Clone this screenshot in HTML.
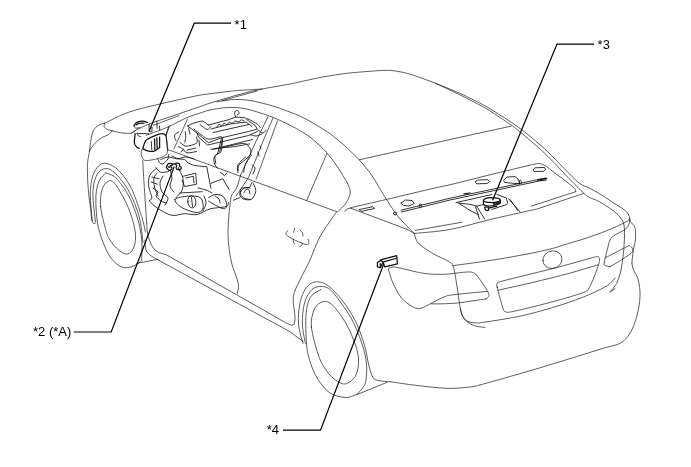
<!DOCTYPE html>
<html><head><meta charset="utf-8"><title>Component location</title>
<style>
html,body{margin:0;padding:0;background:#fff;}
body{width:691px;height:467px;overflow:hidden;}
svg{display:block;will-change:transform;}
.b{fill:none;stroke:#111;stroke-width:.68;stroke-linecap:round;stroke-linejoin:round;}
.e{fill:none;stroke:#111;stroke-width:.85;stroke-linecap:round;stroke-linejoin:round;}
.d{fill:none;stroke:#111;stroke-width:1.25;stroke-linecap:round;stroke-linejoin:round;}
.k{fill:none;stroke:#000;stroke-width:1.2;stroke-linejoin:miter;}
.h{fill:none;stroke:#000;stroke-width:1.2;stroke-linecap:round;stroke-linejoin:round;}
text{font-family:"Liberation Sans",sans-serif;font-size:13px;fill:#000;}
</style></head><body>
<svg width="691" height="467" viewBox="0 0 691 467">
<rect width="691" height="467" fill="#fff"/>
<g class="b">
<path d="M104.6,123.3 C108.7,121.4 119.6,115.3 129.3,112.0 C139.0,108.7 151.7,106.0 163.0,103.3 C174.3,100.6 189.2,97.3 197.0,95.7 C204.8,94.1 204.0,94.6 210.0,93.8 C216.0,93.0 225.0,91.7 233.1,90.9 C241.2,90.1 251.8,89.9 258.6,89.2 C265.4,88.5 268.5,87.8 273.7,86.9 C278.9,86.0 285.9,84.8 290.0,84.0 C294.1,83.2 293.0,83.4 298.5,82.2 C304.0,81.0 315.0,78.4 323.2,76.9 C331.4,75.4 340.0,74.1 347.8,73.2 C355.6,72.3 363.4,71.8 370.0,71.3 C376.6,70.8 382.5,70.2 387.5,70.3 C392.5,70.4 395.6,71.0 400.0,71.8 C404.4,72.6 407.8,73.4 413.7,75.3 C419.6,77.2 428.2,80.5 435.5,83.3 C442.8,86.1 451.6,89.7 457.3,92.2 C463.1,94.7 464.7,95.5 470.0,98.2 C475.3,100.9 481.1,103.4 489.1,108.2 C497.1,113.0 509.7,121.0 518.2,127.1 C526.7,133.2 534.0,139.5 540.1,144.8 C546.2,150.1 549.8,153.9 554.6,158.7 C559.4,163.5 564.9,169.3 569.1,173.5 C573.3,177.7 576.4,181.1 580.0,183.7 C583.6,186.2 586.6,186.5 590.9,188.8 C595.1,191.1 601.7,195.1 605.5,197.5 C609.3,199.9 610.6,201.0 613.7,203.0 C616.8,205.0 621.5,207.8 623.9,209.6 C626.3,211.4 627.2,212.4 628.2,213.9 C629.2,215.4 629.3,217.0 629.7,218.3 C630.1,219.6 629.7,220.7 630.4,221.9 C631.1,223.1 633.1,224.0 634.0,225.6 C634.9,227.2 635.3,228.7 635.5,231.4 C635.7,234.1 635.6,238.4 635.2,241.6 C634.8,244.8 633.8,246.7 633.3,250.3 C632.8,253.9 632.1,260.9 631.9,263.0"/>
<path d="M104.6,123.3 C103.8,123.5 101.2,123.8 99.5,124.8 C97.8,125.8 95.6,127.2 94.3,129.0 C93.0,130.8 92.5,132.9 91.8,135.6 C91.1,138.2 90.6,142.0 90.2,144.9 C89.8,147.8 89.6,150.6 89.2,153.1 C88.8,155.6 88.2,157.5 87.9,160.0 C87.6,162.5 87.4,164.6 87.4,168.0 C87.4,171.4 87.5,176.2 87.7,180.7 C87.9,185.2 88.4,190.7 88.8,195.0 C89.2,199.3 89.7,201.9 90.3,206.4 C90.9,210.9 91.4,219.0 92.3,221.8 C93.2,224.6 94.9,222.9 95.4,223.1"/>
<path d="M104.6,123.3 C104.5,123.8 103.8,125.5 104.1,126.4 C104.4,127.4 105.2,128.2 106.7,129.0 C108.2,129.8 110.1,130.3 112.8,131.0 C115.5,131.7 120.0,132.8 123.1,133.1 C126.2,133.4 129.2,133.5 131.3,133.1 C133.4,132.7 134.7,130.9 135.4,130.5"/>
<path d="M112.3,130.5 C111.7,131.2 110.3,133.5 108.7,134.6 C107.1,135.7 104.6,136.0 102.6,137.2 C100.5,138.4 98.3,140.0 96.4,141.8 C94.5,143.6 92.4,146.4 91.2,148.0 C90.0,149.6 89.7,151.0 89.4,151.6"/>
<path d="M92.3,220.6 C92.0,216.1 90.2,201.1 90.3,193.6 C90.4,186.1 91.4,180.3 92.9,175.6 C94.4,170.9 97.0,167.3 99.3,165.3 C101.6,163.3 103.8,162.7 107.0,163.5 C110.2,164.3 114.5,166.2 118.6,170.4 C122.7,174.6 127.6,180.7 131.4,188.4 C135.2,196.1 139.3,209.4 141.7,216.7 C144.0,224.0 144.9,229.5 145.5,232.1"/>
<path d="M95.4,221.8 C95.0,217.1 92.8,201.1 92.9,193.6 C93.0,186.1 94.2,181.0 95.9,176.9 C97.6,172.8 100.2,170.0 103.1,169.1 C106.0,168.2 109.1,168.0 113.4,171.7 C117.7,175.3 124.5,183.5 128.8,191.0 C133.1,198.5 136.7,208.1 139.1,216.7 C141.5,225.3 142.3,238.1 143.0,242.4"/>
<path d="M105.7,173.0 C104.6,174.3 100.9,176.8 99.3,180.7 C97.7,184.5 96.2,189.0 95.9,196.1 C95.6,203.2 96.3,215.4 97.5,223.1 C98.7,230.8 100.9,236.6 103.1,242.4 C105.3,248.2 107.8,253.7 110.8,257.8 C113.8,261.9 117.7,265.3 121.1,266.8 C124.5,268.3 128.2,267.7 131.4,266.8 C134.6,265.9 138.7,263.2 140.4,261.7 C142.1,260.2 141.5,261.4 141.7,257.8 C141.9,254.2 142.3,246.2 141.7,239.8 C141.0,233.4 140.0,226.6 137.8,219.3 C135.7,212.0 132.4,203.0 128.8,196.1 C125.2,189.2 119.8,181.9 116.0,178.1 C112.2,174.2 107.4,173.8 105.7,173.0"/>
<path d="M100.6,206.4 C100.0,199.8 100.9,194.1 102.0,190.0 C103.1,185.9 105.1,183.3 107.0,182.0 C108.9,180.7 110.9,179.8 113.4,182.0 C115.9,184.2 119.2,190.0 122.0,195.0 C124.8,200.0 127.8,205.8 130.0,212.0 C132.2,218.2 134.6,226.3 135.3,232.1 C136.0,237.9 135.3,243.3 134.0,247.0 C132.7,250.7 130.2,253.5 127.6,254.0 C125.0,254.5 121.5,252.4 118.6,250.1 C115.7,247.8 112.2,243.4 110.0,240.0 C107.8,236.6 107.3,235.2 105.7,229.6 C104.1,224.0 101.2,213.0 100.6,206.4Z"/>
<path d="M136.7,263.3 L158.3,259.3"/>
<path d="M142.8,160.5 C142.9,162.9 143.2,170.1 143.5,175.0 C143.8,179.9 144.0,182.4 144.5,190.0 C145.0,197.6 145.9,212.7 146.5,220.5 C147.1,228.3 146.9,231.8 148.3,236.7 C149.7,241.6 151.9,246.9 155.0,250.0 C158.1,253.1 164.8,254.2 166.7,255.0 L286.7,323.3  C287.8,323.6 291.9,326.1 293.3,325.0 C294.7,323.9 295.0,321.4 295.0,316.7 C295.0,312.0 292.5,302.8 293.3,296.7 C294.1,290.6 297.2,286.1 300.0,280.0 C302.8,273.9 306.7,267.2 310.0,260.0 C313.3,252.8 315.6,244.8 320.0,236.7 C324.4,228.6 333.9,215.9 336.7,211.7"/>
<path d="M145.0,240.0 C145.3,241.9 145.0,248.6 146.7,251.7 C148.4,254.8 153.6,257.2 155.0,258.3 L290,331.7 L303.3,341.7"/>
<path d="M167.4,149.4 L336.7,211.7"/>
<path d="M240.6,175.2 C239.9,177.3 238.2,184.4 236.7,187.8 C235.2,191.2 232.6,192.6 231.5,195.6 C230.4,198.6 230.4,202.1 229.9,206.0 C229.4,209.9 228.9,213.3 228.6,219.0 C228.3,224.7 227.7,232.6 228.2,240.0 C228.7,247.4 230.0,256.1 231.7,263.3 C233.4,270.5 237.4,278.3 238.3,283.3 C239.2,288.3 237.5,291.6 237.3,293.3"/>
<path d="M326.8,153.7 L306.7,200.5"/>
<path d="M359.3,159.8 L403.1,150.0 L460.0,137.3 L510.9,126.2"/>
<path d="M435.5,83.3 C439.1,85.0 451.6,90.8 457.3,93.6 C463.1,96.4 464.7,97.2 470.0,100.0 C475.3,102.8 482.3,106.1 489.1,110.3 C495.9,114.5 506.0,121.5 510.9,124.9 C515.8,128.3 513.3,126.5 518.2,130.5 C523.1,134.5 534.0,143.5 540.1,149.0 C546.2,154.5 549.8,158.4 554.6,163.3 C559.4,168.2 565.2,174.6 569.1,178.6 C573.0,182.6 575.4,184.9 577.8,187.3 C580.2,189.7 581.8,191.4 583.7,193.1 C585.7,194.8 586.9,196.1 589.5,197.5 C592.1,198.9 595.1,199.3 599.1,201.6 C603.1,203.8 610.1,208.2 613.7,211.0 C617.3,213.8 619.2,216.2 620.9,218.3 C622.5,220.4 623.0,221.0 623.6,223.4 C624.2,225.8 624.5,229.3 624.6,232.8 C624.7,236.3 624.4,240.6 624.1,244.5 C623.9,248.4 623.6,251.9 623.1,256.1 C622.6,260.4 622.1,265.5 621.0,270.0 C619.9,274.5 618.5,279.7 616.7,283.3 C614.9,286.9 611.1,290.3 610.0,291.7"/>
<path d="M345.0,211.5 L346.5,209.3 L352.2,207.4 L390.9,198.4 L431.6,188.7 L450.0,184.8 L490.7,174.6 L531.4,164.8  C532.8,164.6 537.1,163.4 539.5,163.6 C541.9,163.8 543.3,164.7 545.8,166.2 C548.3,167.7 550.7,169.9 554.6,172.8 C558.5,175.7 565.7,181.0 569.1,183.7 C572.5,186.4 573.8,187.5 574.9,188.8 C576.0,190.1 575.6,191.2 575.7,191.7"/>
<path d="M583.7,193.4 C581.8,194.1 579.4,194.9 572.1,197.3 C564.8,199.7 546.8,205.8 540.0,208.0 C533.2,210.2 539.6,208.3 531.4,210.2 C523.2,212.1 504.3,216.2 490.7,219.4 C477.1,222.6 462.7,227.2 450.0,229.5 C437.3,231.8 420.2,232.8 414.3,233.4"/>
<path d="M575.7,191.7 L540.0,203.3 L531.4,206.1"/>
<path d="M415.3,230.4 L462.1,222.2"/>
<path d="M350.2,208.0 L407.2,229.4 L414.3,233.4"/>
<path d="M414.3,233.4 C414.6,234.5 415.3,238.0 416.4,240.0 C417.5,242.0 417.8,243.1 420.7,245.4 C423.6,247.7 429.0,251.2 433.6,253.9 C438.2,256.6 445.4,259.4 448.6,261.4 C451.8,263.4 451.8,263.5 452.9,265.7 C454.0,267.9 454.3,270.7 455.0,274.3 C455.7,277.9 456.4,282.5 457.1,287.1 C457.8,291.7 458.6,297.8 459.3,302.1 C460.0,306.4 460.3,309.8 461.4,312.9 C462.5,315.9 463.5,318.3 465.7,320.4 C467.9,322.5 471.1,324.5 474.3,325.7 C477.5,326.9 483.2,327.1 485.0,327.4"/>
<path d="M452.9,265.7 C460.8,264.6 484.6,261.5 500.0,258.9 C515.4,256.3 533.3,253.0 545.0,250.3 C556.7,247.7 563.4,244.9 570.0,243.0 C576.6,241.1 579.8,240.3 584.6,238.7 C589.5,237.1 594.2,235.4 599.1,233.6 C604.0,231.8 609.7,229.5 613.7,227.8 C617.7,226.1 620.7,224.6 623.1,223.4 C625.5,222.2 627.1,221.3 628.2,220.5 C629.3,219.7 629.5,218.7 629.7,218.3"/>
<path d="M543,260.5 a9.5,8 -12 1,0 18.8,-1.6 a9.5,8 -12 1,0 -18.8,1.6Z"/>
<path d="M497.2,287.3 C496.2,283.2 496.7,284.5 497.2,283.6 C497.7,282.7 495.9,283.0 500.1,281.7 C504.3,280.4 512.6,278.5 522.6,276.0 C532.6,273.5 549.0,269.6 560.3,266.6 C571.6,263.6 584.3,259.9 590.4,258.2 C596.5,256.5 595.4,256.7 596.9,256.7 C598.4,256.7 599.1,257.0 599.4,258.2 C599.7,259.4 599.7,260.7 598.8,263.8 C597.9,266.9 595.7,273.1 594.1,277.0 C592.5,280.9 591.0,284.8 589.4,287.3 C587.8,289.8 589.6,289.9 584.7,292.0 C579.9,294.1 569.1,297.1 560.3,299.6 C551.5,302.1 540.2,305.1 532.0,307.1 C523.8,309.1 515.7,311.0 511.3,311.8 C506.9,312.6 507.1,312.4 505.7,311.8 C504.3,311.2 504.3,312.1 502.9,308.0 C501.5,303.9 498.1,291.4 497.2,287.3Z"/>
<path d="M498.2,290.2 C503.8,288.9 520.1,285.4 532.0,282.6 C543.9,279.8 558.7,276.2 569.7,273.2 C580.7,270.2 593.2,266.2 597.9,264.8"/>
<path d="M460.4,308.6 C460.8,309.8 461.2,313.9 462.5,316.0 C463.8,318.1 465.6,320.2 467.9,321.4 C470.2,322.5 473.5,322.8 476.4,322.9 C479.2,323.0 477.3,323.3 485.0,322.1 C492.7,320.9 510.1,318.4 522.6,315.6 C535.1,312.8 549.3,308.6 560.3,305.2 C571.3,301.8 580.7,298.2 588.5,294.9 C596.3,291.6 602.9,288.3 607.3,285.5 C611.7,282.7 613.7,279.2 615.0,277.9"/>
<path d="M610.1,292.0 L615.0,288.6"/>
<path d="M388.6,270.0 C388.8,269.6 388.2,268.3 389.6,267.9 C391.0,267.5 391.6,266.5 397.1,267.4 C402.7,268.3 415.0,272.0 422.9,273.2 C430.8,274.4 437.2,274.5 444.3,274.3 C451.4,274.1 460.7,272.3 465.7,272.1 C470.7,271.9 471.8,271.8 474.3,273.2 C476.8,274.6 478.6,277.8 480.7,280.7 C482.8,283.6 485.7,287.9 487.1,290.4 C488.5,292.9 489.1,294.3 488.9,295.7 C488.7,297.1 486.6,298.4 486.1,298.9"/>
<path d="M388.6,270.0 C389.3,272.1 390.8,278.2 392.9,282.9 C395.0,287.5 398.2,294.0 401.4,297.9 C404.6,301.8 409.1,304.6 412.1,306.4 C415.1,308.2 416.7,309.0 419.6,308.6 C422.5,308.2 425.2,306.3 429.3,304.3 C433.4,302.3 440.0,298.4 444.3,296.8 C448.6,295.2 447.9,295.5 455.0,294.6 C462.1,293.7 481.8,291.9 487.1,291.4"/>
<path d="M431.4,303.9 C435.3,303.8 445.9,304.0 455.0,303.2 C464.1,302.4 480.9,299.6 486.1,298.9"/>
<path d="M629.7,219.0 C629.6,219.8 629.7,222.4 629.0,224.1 C628.3,225.8 627.8,227.2 625.3,229.2 C622.8,231.1 616.2,234.0 613.7,235.8 C611.2,237.6 611.1,237.7 610.0,240.1 C608.9,242.5 608.1,246.5 607.1,250.3 C606.1,254.1 604.6,260.5 604.2,263.0 C603.9,265.5 604.0,264.9 605.0,265.5 C606.0,266.1 609.2,266.5 610.0,266.7"/>
<path d="M605.7,257.6 C609.2,255.8 622.8,248.6 626.8,246.7 C630.8,244.8 628.7,245.5 629.7,245.9 C630.7,246.3 632.4,247.7 632.6,248.9 C632.8,250.1 633.5,251.0 631.1,253.2 C628.7,255.4 621.5,259.8 618.0,262.0 C614.5,264.2 611.3,265.9 610.0,266.7"/>
<path d="M631.9,263.0 C632.2,264.2 632.4,267.2 633.5,270.0 C634.6,272.8 637.2,275.6 638.3,280.0 C639.4,284.4 640.3,290.6 640.0,296.7 C639.7,302.8 638.4,310.6 636.7,316.7 C635.0,322.8 632.8,328.9 630.0,333.3 C627.2,337.7 624.5,340.8 620.0,343.3 C615.5,345.8 613.3,345.2 603.3,348.3 C593.3,351.4 572.8,357.8 560.0,361.7 C547.2,365.6 537.4,368.6 526.7,371.7 C516.0,374.8 503.8,378.3 496.0,380.5 C488.2,382.7 482.7,384.2 480.0,385.0"/>
<path d="M390.0,381.7 C393.9,382.2 403.9,383.9 413.3,385.0 C422.8,386.1 437.2,388.0 446.7,388.3 C456.1,388.6 464.4,387.6 470.0,387.0 C475.6,386.4 478.3,385.3 480.0,385.0"/>
<path d="M303.0,343.4 C302.2,340.2 299.0,330.7 298.5,324.0 C298.0,317.3 298.8,309.0 300.0,303.0 C301.2,297.0 303.5,291.5 306.0,288.0 C308.5,284.5 311.5,282.5 315.0,282.0 C318.5,281.5 322.5,282.0 327.0,285.0 C331.5,288.0 337.3,294.0 342.0,300.0 C346.7,306.0 351.7,313.5 355.4,321.0 C359.1,328.5 362.1,337.5 364.4,345.0 C366.7,352.5 367.5,360.5 369.0,366.0 C370.5,371.5 371.4,375.5 373.4,378.0 C375.4,380.5 378.2,380.4 381.0,381.0 C383.8,381.6 388.5,381.6 390.0,381.7"/>
<path d="M305.4,343.4 C304.9,340.2 302.5,330.7 302.4,324.0 C302.2,317.3 302.9,308.8 304.5,303.0 C306.1,297.2 309.0,292.2 312.0,289.5 C315.0,286.8 319.0,286.0 322.5,286.5 C326.0,287.0 328.2,287.2 333.0,292.5 C337.8,297.8 346.3,309.8 351.0,318.0 C355.7,326.2 358.9,335.0 361.4,342.0 C363.9,349.0 365.1,354.5 366.0,360.0 C366.9,365.5 366.8,370.8 366.5,375.0 C366.2,379.2 366.0,382.2 364.4,385.4 C362.8,388.6 358.2,392.9 357.0,394.4"/>
<path d="M321.0,289.5 C319.2,290.8 313.0,292.8 310.5,297.0 C308.0,301.2 306.6,307.0 306.0,315.0 C305.4,323.0 305.9,337.0 306.6,345.0 C307.4,353.0 308.6,357.3 310.5,363.0 C312.4,368.7 314.8,374.4 318.0,379.4 C321.2,384.4 325.5,390.0 330.0,393.0 C334.5,396.0 340.5,397.2 345.0,397.4 C349.5,397.6 350.0,396.9 357.0,394.4 C364.0,391.9 382.0,384.4 387.0,382.4"/>
<path d="M311.4,327.0 C310.7,319.7 312.4,314.1 314.0,310.0 C315.6,305.9 318.3,303.6 321.0,302.4 C323.7,301.2 326.5,300.6 330.0,303.0 C333.5,305.4 338.3,311.5 342.0,317.0 C345.7,322.5 349.3,329.3 352.0,336.0 C354.7,342.7 357.7,350.5 358.4,357.0 C359.1,363.5 358.2,370.5 356.0,375.0 C353.8,379.5 348.8,383.5 345.0,384.0 C341.2,384.5 336.5,380.8 333.0,378.0 C329.5,375.2 326.5,371.0 324.0,367.0 C321.5,363.0 320.1,360.7 318.0,354.0 C315.9,347.3 312.1,334.3 311.4,327.0Z"/>
<path d="M287.7,230.9 C287.5,231.1 286.5,231.3 286.3,232.0 C286.1,232.7 285.2,233.7 286.3,234.9 C287.4,236.1 290.4,237.8 293.2,239.3 C296.0,240.8 300.9,242.8 303.4,243.7 C305.9,244.5 307.2,244.7 308.1,244.4 C309.0,244.1 308.8,242.7 308.8,241.8 C308.8,241.0 308.2,239.7 308.1,239.3"/>
<path d="M294.7,228.4 L293.6,232.4"/>
<path d="M300.1,230.2 C300.5,230.6 301.8,231.7 302.3,232.7 C302.8,233.7 302.9,235.4 303.0,236.0"/>
<path d="M293.2,239.3 C293.2,239.8 293.2,241.2 293.5,242.0 C293.8,242.8 294.5,243.7 294.7,244.0"/>
<path d="M302.6,243.3 C302.4,243.7 302.0,244.9 301.5,245.5 C301.0,246.1 300.0,246.4 299.7,246.6"/>
<path d="M165.6,135.1 C165.9,136.5 167.1,140.6 167.4,143.4 C167.7,146.2 167.8,149.7 167.4,151.7 C167.0,153.7 166.7,154.2 165.1,155.4 C163.5,156.6 160.6,157.8 157.8,158.6 C155.1,159.4 150.9,160.2 148.6,160.4 C146.3,160.6 145.2,160.7 144.0,160.0 C142.8,159.3 142.2,157.7 141.7,156.3 C141.2,154.9 141.0,153.1 141.2,151.7 C141.4,150.3 142.7,148.6 143.0,148.0"/>
<path d="M131.3,133.1 C132.0,132.7 133.3,131.6 135.4,130.5 C137.5,129.4 140.9,127.7 143.7,126.4 C146.5,125.1 149.8,123.7 152.0,122.8 C154.2,121.9 156.0,121.5 156.8,121.2 L170,116.9 L210,103.1 L233.1,96.2 L250.5,91.5 L262.1,89.2"/>
<path d="M222.0,100.6 L257.0,91.0"/>
<path d="M146.2,135.3 C149.5,134.0 159.4,130.7 166.2,127.7 C173.0,124.8 181.4,120.0 187.0,117.6 C192.6,115.2 196.2,114.4 200.0,113.1 C203.8,111.8 205.8,110.9 210.0,110.0 C214.2,109.1 220.2,108.1 225.0,107.7 C229.8,107.3 234.7,107.3 238.9,107.7 C243.2,108.1 246.6,109.0 250.5,110.0 C254.4,111.0 258.1,112.2 262.1,113.5 C266.2,114.8 270.2,116.1 274.8,118.1 C279.4,120.0 285.8,123.1 290.0,125.2 C294.2,127.3 296.7,128.7 300.0,130.7 C303.3,132.7 306.8,134.7 310.0,137.1 C313.2,139.5 316.3,142.4 319.1,145.0 C321.9,147.6 324.0,149.5 326.9,152.9 C329.8,156.3 333.5,161.1 336.4,165.3 C339.3,169.5 342.4,174.8 344.4,178.0 C346.3,181.2 347.1,182.2 348.1,184.6 C349.1,187.0 350.5,189.6 350.2,192.7 C349.9,195.8 348.1,199.8 346.1,202.9 C344.1,206.0 339.4,210.1 338.0,211.5"/>
<path d="M216.9,101.9 C219.6,101.5 227.9,99.9 233.1,99.6 C238.3,99.3 243.4,99.6 248.2,100.2 C253.0,100.8 257.7,102.0 262.1,103.1 C266.5,104.2 270.2,105.1 274.8,106.6 C279.4,108.1 285.8,110.5 290.0,112.1 C294.2,113.7 296.7,114.6 300.0,116.1 C303.3,117.6 306.7,119.4 310.0,121.3 C313.3,123.2 316.7,125.2 320.0,127.3 C323.3,129.4 326.1,130.8 330.0,133.7 C333.9,136.6 340.5,142.2 343.7,144.9 C346.9,147.6 346.8,147.7 349.2,150.0 C351.6,152.3 355.2,155.6 358.2,158.8 C361.2,162.0 364.4,165.8 367.0,169.0 C369.6,172.2 370.5,173.4 373.5,178.0 C376.5,182.6 380.9,190.6 384.8,196.8 C388.7,203.0 393.3,210.2 397.0,215.1 C400.7,220.0 404.3,223.2 407.2,226.3 C410.1,229.4 413.1,232.2 414.3,233.4"/>
<path d="M268.0,116.8 L256.6,140.0 L240.6,175.2"/>
<path d="M273.0,118.0 L263.5,140.0 L248.4,177.8 L236.0,196.0"/>
<path d="M277.6,120.5 L256.2,179.0"/>
<path d="M169.7,125.7 L166.1,135.0"/>
<path d="M153.5,125.3 L179.0,115.6"/>
<path d="M187.4,119.4 L173.9,148.9"/>
</g>
<g class="e">
<path d="M359.5,209.5 L372.5,206.8 L374.6,208.5 L361.5,211.3Z"/>
<path d="M401.0,203.0 L405.5,200.0 L412.0,200.5 L414.3,203.5 L409.0,206.0 L404.0,205.5Z"/>
<path d="M393.5,213.5 a1.5,1.5 0 1,0 3,0 a1.5,1.5 0 1,0 -3,0Z"/>
<path d="M475.4,181.5 L478.0,180.0 L488.0,179.7 L489.7,181.5 L487.0,183.5 L477.0,183.8Z"/>
<path d="M503.9,180.0 L507.0,177.0 L515.0,176.6 L518.0,179.0 L520.2,183.8 L510.0,183.0 L505.0,182.5Z"/>
<path d="M533.4,169.5 L535.0,167.8 L544.5,167.5 L545.6,169.5 L544.0,171.3 L534.5,171.5Z"/>
<path d="M401.0,210.2 L450.0,198.2 L545.6,178.0"/>
<path d="M401.5,212.0 L450.0,200.0 L538.0,181.3"/>
<path d="M420.0,208.0 C419.9,207.4 419.3,205.2 419.5,204.5 C419.7,203.8 420.7,203.6 421.0,204.0 C421.3,204.4 421.4,206.5 421.5,207.0"/>
<path d="M519.0,184.0 C519.1,183.4 519.2,181.1 519.5,180.5 C519.8,179.9 520.7,180.1 521.0,180.5 C521.3,180.9 521.4,182.6 521.5,183.0"/>
<path d="M458.1,203.0 L470.0,204.3 L476.6,206.1 L483.1,204.7"/>
<path d="M476.6,206.1 L484.6,219.0"/>
<path d="M475.5,206.8 L479.5,219.0"/>
<path d="M459.0,203.3 L470.0,210.5 L478.7,214.8"/>
<path d="M496.9,194.5 L506.4,198.1 L507.5,203.2 L506.4,204.7 L491.8,209.4"/>
<path d="M508.6,198.8 L520.0,211.9"/>
<path d="M510.0,199.5 L518.0,210.5"/>
<path d="M456.0,202.6 L491.8,194.5"/>
<path d="M151.3,141.6 L151.8,149.8"/>
<path d="M157.8,158.6 C158.1,159.3 158.7,161.9 159.6,162.7 C160.5,163.5 161.9,164.2 163.3,163.6 C164.7,163.0 167.0,160.5 167.9,159.0 C168.8,157.5 168.7,155.2 168.8,154.4"/>
<path d="M134.0,125.5 C134.2,125.9 134.4,127.6 135.5,128.0 C136.6,128.4 139.5,127.8 140.3,127.7"/>
<path d="M137.0,133.5 C137.2,133.9 137.9,135.5 138.5,136.0 C139.1,136.5 140.2,136.4 140.5,136.5"/>
<path d="M136.8,133.3 L149.1,133.8"/>
<path d="M149.1,124.1 L149.1,131.5 L152.0,131.8 L152.0,127.0"/>
<path d="M156.8,121.2 L157.2,128.5"/>
<path d="M159.5,126.0 L159.8,130.2"/>
<path d="M240.6,191.7 C241.4,190.5 243.0,188.6 244.5,187.8 C246.0,187.1 248.4,188.1 249.7,187.2 C251.0,186.3 251.3,182.3 252.3,182.6 C253.3,182.9 255.1,187.1 255.5,189.1 C255.9,191.1 255.7,192.6 254.9,194.3 C254.2,196.0 252.9,198.7 251.0,199.5 C249.1,200.3 245.0,199.7 243.2,198.9 C241.3,198.2 240.3,196.2 239.9,195.0 C239.5,193.8 239.8,192.9 240.6,191.7Z"/>
<path d="M244.0,193.0 C244.3,192.4 245.2,190.0 246.0,189.5 C246.8,189.0 248.3,189.2 249.0,190.0 C249.7,190.8 249.8,193.3 250.0,194.0"/>
<path d="M233.4,200.2 L239.9,197.6"/>
<path d="M245.8,156.9 C244.5,158.2 239.3,162.1 238.0,164.7 C236.7,167.3 238.0,171.3 238.0,172.6"/>
<path d="M222.3,140.0 C222.1,141.9 222.2,149.1 221.0,151.7 C219.8,154.3 216.1,153.6 215.2,155.6 C214.3,157.6 215.7,162.1 215.8,163.4"/>
<path d="M221.0,147.8 C223.3,147.6 230.2,147.2 235.0,146.5 C239.8,145.8 247.2,144.3 249.7,143.9"/>
<path d="M252.0,165.0 C252.5,165.5 254.8,166.5 255.0,168.0 C255.2,169.5 253.3,173.0 253.0,174.0"/>
<path d="M258.0,152.0 L259.0,156.0"/>
<path d="M260.0,146.0 L261.0,149.0"/>
<path d="M156.7,168.3 C155.5,169.5 150.9,172.4 149.6,175.5 C148.3,178.6 148.4,182.9 148.8,186.6 C149.2,190.3 151.8,195.4 151.9,197.8 C152.0,200.2 148.7,199.3 149.6,201.0 C150.5,202.7 153.8,205.7 157.5,208.1 C161.2,210.5 167.3,214.4 171.8,215.3 C176.3,216.2 180.3,213.8 184.6,213.7 C188.8,213.6 193.1,215.3 197.3,214.5 C201.5,213.7 205.2,210.2 210.0,208.9 C214.8,207.6 222.9,207.6 226.0,206.5 C229.1,205.4 228.0,203.2 228.4,202.5"/>
<path d="M183.0,176.3 L195.7,173.1 L196.5,184.2 L184.6,186.6 L182.2,180.3"/>
<path d="M186.0,178.0 L193.3,176.3 L194.0,183.0"/>
<path d="M187.8,201.8 a4,5.6 -8 1,0 8,0 a4,5.6 -8 1,0 -8,0Z"/>
<path d="M191.5,197.5 L192.5,206.5"/>
<path d="M175.0,199.4 C176.1,197.6 183.6,196.5 187.8,196.2 C192.1,195.9 198.0,195.7 200.5,197.8 C203.0,199.9 203.7,206.5 202.9,208.9 C202.2,211.3 199.6,212.8 196.0,212.5 C192.4,212.2 184.9,209.5 181.4,207.3 C177.9,205.1 173.9,201.2 175.0,199.4Z"/>
<path d="M179.8,193.0 L202.1,191.7"/>
<path d="M206.9,167.5 L210.9,188.2"/>
<path d="M210.9,183.4 L222.8,178.7 L229.2,189.8"/>
<path d="M220.4,172.3 L224.4,175.5 L226.8,173.1"/>
<path d="M208.5,197.8 C209.6,197.3 212.4,194.9 214.8,194.6 C217.2,194.3 220.8,194.6 222.8,196.2 C224.8,197.8 226.5,202.0 226.8,204.1 C227.1,206.2 226.1,208.6 224.4,208.9 C222.7,209.2 219.1,207.0 216.4,205.7 C213.8,204.4 209.8,201.8 208.5,201.0"/>
<path d="M215.0,196.0 C215.7,196.5 218.2,197.8 219.0,199.0 C219.8,200.2 219.8,202.3 220.0,203.0"/>
<path d="M250.0,188.0 C248.7,188.0 243.5,187.4 241.9,188.2 C240.3,189.0 240.0,191.4 240.3,193.0 C240.6,194.6 241.9,196.7 243.5,197.8 C245.1,198.9 248.9,199.2 250.0,199.5"/>
<path d="M160.7,159.6 C161.9,159.2 165.3,157.1 168.0,157.0 C170.7,156.9 173.8,158.4 176.6,158.8 C179.4,159.2 182.7,158.9 184.6,159.6 C186.5,160.2 186.1,161.7 187.8,162.7 C189.5,163.7 191.8,164.8 195.0,165.5 C198.2,166.2 204.9,166.5 206.9,166.7"/>
<path d="M155.9,167.5 C156.7,168.3 158.6,171.6 160.7,172.3 C162.8,173.0 167.4,171.6 168.7,171.5"/>
<path d="M151.9,177.0 L159.1,178.7"/>
<path d="M151.0,182.0 L157.5,184.2"/>
<path d="M153.0,188.0 C153.8,188.7 157.5,190.7 158.0,192.0 C158.5,193.3 155.5,194.5 156.0,196.0 C156.5,197.5 159.3,199.8 161.0,201.0 C162.7,202.2 165.2,202.7 166.0,203.0"/>
<path d="M178.2,167.5 C179.0,169.4 182.3,175.0 183.0,178.7 C183.7,182.4 183.4,186.6 182.2,189.8 C181.0,193.0 176.9,196.5 175.8,197.8"/>
<path d="M157.0,173.0 C156.5,173.8 154.4,175.7 154.0,178.0 C153.6,180.3 153.8,184.0 154.5,187.0 C155.2,190.0 157.4,194.5 158.0,196.0"/>
<path d="M163.0,176.0 C162.5,177.2 160.2,180.3 160.0,183.0 C159.8,185.7 160.7,189.5 162.0,192.0 C163.3,194.5 167.5,195.8 168.0,198.0 C168.5,200.2 165.5,203.8 165.0,205.0"/>
<path d="M170.0,170.0 C170.3,171.3 172.0,175.3 172.0,178.0 C172.0,180.7 169.7,183.7 170.0,186.0 C170.3,188.3 173.3,191.0 174.0,192.0"/>
<path d="M204.0,196.0 C204.3,197.2 206.2,200.5 206.0,203.0 C205.8,205.5 203.5,209.7 203.0,211.0"/>
<path d="M198.0,188.0 C199.3,188.3 203.7,189.2 206.0,190.0 C208.3,190.8 211.0,192.5 212.0,193.0"/>
<path d="M187.5,125.9 C188.6,125.4 191.6,123.8 194.0,123.0 C196.4,122.2 200.1,121.2 201.9,121.1 C203.7,121.0 203.9,121.8 205.0,122.5 C206.1,123.2 207.8,124.7 208.4,125.1"/>
<path d="M208.4,125.1 L229.2,119.5 L235.7,117.0 L245.3,117.8 L248.5,121.1 L254.9,125.1 L257.3,129.1 L248.5,131.5 L221.2,137.9 L208.4,142.7 L197.1,133.1 L187.5,125.9"/>
<path d="M211.0,129.0 L230.0,124.0 L246.0,122.0 L252.0,126.5"/>
<path d="M213.0,132.5 L249.0,124.5"/>
<path d="M217.0,127.0 C217.3,126.5 218.2,124.5 219.0,124.3 C219.8,124.1 221.2,126.0 222.0,125.8 C222.8,125.6 223.2,123.4 224.0,123.2 C224.8,123.0 226.1,124.8 227.0,124.6 C227.9,124.4 228.7,122.2 229.5,122.0 C230.3,121.8 231.1,123.6 232.0,123.4 C232.9,123.2 233.8,121.2 235.0,121.0 C236.2,120.8 238.0,122.2 239.0,122.0 C240.0,121.8 240.2,120.0 241.0,119.8 C241.8,119.6 243.5,120.8 244.0,121.0"/>
<path d="M236.0,117.5 C235.8,116.8 234.6,114.7 234.6,113.5 C234.6,112.3 235.3,111.0 236.0,110.6 C236.7,110.2 238.1,110.8 238.6,111.3 C239.1,111.8 239.1,113.2 238.8,113.8 C238.5,114.4 237.3,114.6 237.0,114.8"/>
<path d="M197.1,133.1 L198.5,137.0 L207.5,145.0 L210.8,144.3 L248.5,135.5 L257.3,131.5"/>
<path d="M213.2,149.2 L252.5,139.5"/>
<path d="M221.5,138.0 L217.7,153.7"/>
<path d="M223.0,137.6 L219.6,152.0"/>
<path d="M218.0,153.2 C217.3,154.0 214.5,156.1 214.0,158.0 C213.5,159.9 214.1,162.7 214.8,164.4 C215.5,166.1 217.5,167.7 218.0,168.4"/>
<path d="M222.8,147.6 C226.0,146.9 237.8,143.8 242.1,143.5 C246.4,143.2 247.0,144.4 248.5,146.0 C250.0,147.6 251.4,150.9 250.9,153.2 C250.4,155.5 247.3,157.6 245.3,159.6 C243.3,161.6 240.1,163.3 238.9,165.2 C237.7,167.1 238.2,169.9 238.1,170.8"/>
<path d="M251.7,154.8 C250.6,156.4 246.6,161.5 245.3,164.4 C244.0,167.3 244.0,171.1 243.7,172.4"/>
<path d="M247.0,118.5 C247.8,118.9 250.2,120.0 252.0,121.0 C253.8,122.0 256.7,123.4 258.0,124.5 C259.3,125.6 259.7,127.0 260.0,127.5"/>
<path d="M178.6,132.1 C178.0,132.5 175.8,133.4 175.1,134.3 C174.4,135.2 174.5,136.8 174.7,137.8 C174.8,138.8 175.8,140.1 176.0,140.5"/>
<path d="M188.7,128.2 L190.0,133.9"/>
<path d="M185.2,131.7 C185.3,132.6 185.8,135.2 185.7,137.0 C185.6,138.8 185.0,141.3 184.8,142.2"/>
<path d="M179.9,142.2 C180.9,142.9 183.3,146.0 186.1,146.2 C188.9,146.3 194.8,144.6 196.6,143.1 C198.3,141.6 196.6,138.0 196.6,137.0"/>
<path d="M178.2,146.6 C178.9,147.0 181.1,147.8 182.6,148.8 C184.1,149.8 184.7,152.4 187.0,152.8 C189.3,153.2 195.0,151.7 196.6,151.5"/>
<path d="M187.0,150.1 L195.8,148.0"/>
<path d="M180.8,151.9 L183.8,149.0"/>
<path d="M210.7,149.3 L219.5,148.4"/>
<path d="M168.5,127.3 C168.1,128.6 166.6,132.4 166.3,135.2 C166.0,138.0 166.6,141.5 166.8,144.0 C167.0,146.5 167.5,149.1 167.6,150.1"/>
<path d="M194.0,129.1 C195.3,130.1 199.4,133.5 201.9,135.2 C204.4,136.9 205.7,139.0 208.9,139.2 C212.1,139.4 219.1,136.9 221.2,136.5"/>
<path d="M200.1,124.7 C201.3,125.5 205.4,129.2 207.2,129.5 C209.0,129.8 210.1,126.9 210.7,126.4"/>
<path d="M199.0,140.0 L199.5,146.0"/>
<path d="M172.0,156.0 C173.0,156.4 175.7,158.3 178.0,158.5 C180.3,158.7 183.3,156.9 186.0,157.0 C188.7,157.1 192.7,158.7 194.0,159.0"/>
<path d="M250.0,134.5 C251.0,134.8 254.0,136.1 256.0,136.0 C258.0,135.9 261.0,134.3 262.0,134.0"/>
<path d="M258.0,130.0 C258.8,130.5 261.7,133.0 263.0,133.0 C264.3,133.0 265.5,130.5 266.0,130.0"/>
</g>
<g class="d">
<path d="M537.5,179.8 L546.7,178.3"/>
<path d="M538.0,181.0 L546.0,179.8"/>
<path d="M464.0,193.8 L470.0,193.0"/>
<path d="M483.5,200.6 C483.6,198.6 487,197.5 491.5,197.5 C496,197.5 499.9,198.3 500.1,199.8 C500.3,201.4 496,202.6 491.8,202.6 C487,202.6 483.4,202 483.5,200.6Z"/>
<path d="M483.5,200.6 C483.6,201.3 482.9,203.8 483.8,204.7 C484.7,205.6 486.9,206.0 488.9,206.1 C490.8,206.2 493.6,205.5 495.5,205.0 C497.4,204.5 499.4,204.1 500.2,203.2 C501.0,202.3 500.1,200.4 500.1,199.8"/>
<path d="M493.5,203.5 C494.1,203.2 496.0,202.2 497.0,202.0 C498.0,201.8 499.1,202.2 499.5,202.3"/>
<path d="M494.0,204.6 C494.5,204.4 496.0,203.9 497.0,203.6 C498.0,203.3 499.5,203.1 500.0,203.0"/>
<path d="M484.6,207.2 C484.8,207.7 484.9,209.6 485.6,210.1 C486.3,210.6 488.1,210.4 488.6,210.1 C489.2,209.8 487.5,209.0 488.9,208.3 C490.3,207.6 495.6,206.5 496.9,206.1"/>
<path d="M485.5,207.0 L489.0,207.3"/>
<path d="M380.6,259.9 L396.7,255.6 L397.4,263.9 L384.7,266.8 L383.2,262.5Z"/>
<path d="M382.8,262.1 L395.6,258.5"/>
<path d="M380.6,260.6 L377.4,262.5 L377.4,266.8 L380.3,267.6 L382.5,263.2"/>
<path d="M380.3,267.6 L380.3,263.5"/>
<path d="M143.0,148.0 C143.2,147.2 143.8,144.8 144.4,143.4 C145.0,142.0 144.9,141.0 146.7,139.7 C148.5,138.4 152.4,136.6 155.0,135.6 C157.6,134.6 160.6,133.8 162.4,133.7 C164.2,133.6 165.1,134.9 165.6,135.1"/>
<path d="M143.0,148.9 C143.8,149.2 145.8,150.4 147.6,150.8 C149.4,151.2 152.1,151.8 154.1,151.2 C156.1,150.6 158.7,148.1 159.6,147.5"/>
<path d="M159.6,147.5 L159.6,137.0"/>
<path d="M154.5,138.8 L154.9,150.0"/>
<path d="M156.8,137.9 L157.2,148.2"/>
<path d="M135.2,133.6 C135.1,135.2 134.1,140.8 134.4,143.0 C134.7,145.2 136.0,146.2 136.8,147.1 C137.6,148.0 138.9,148.1 139.3,148.3"/>
<path d="M134.0,125.5 C134.5,125.0 135.4,123.1 136.8,122.4 C138.2,121.7 140.9,121.2 142.7,121.2 C144.5,121.2 146.6,122.2 147.4,122.4"/>
<path d="M136.0,125.0 C136.5,124.7 137.7,123.7 139.0,123.4 C140.3,123.1 143.2,123.2 144.0,123.2"/>
<path d="M168.6,163.6 C169.3,163.4 171.2,163.4 171.8,163.6 C172.4,163.8 172.7,164.6 172.4,165.0 C172.1,165.4 170.1,165.8 170.0,166.2 C169.9,166.6 171.6,166.9 171.8,167.4 C172.1,167.9 171.9,168.9 171.5,169.4 C171.1,169.9 170.0,170.6 169.2,170.3 C168.4,170.1 167.0,168.5 166.6,167.9 C166.2,167.3 166.4,167.1 166.6,166.5 C166.8,165.9 167.4,165.0 167.7,164.5 C168.0,164.0 167.9,163.8 168.6,163.6Z"/>
<path d="M168.2,166.8 L169.5,167.4"/>
<path d="M175.3,163.6 C175.6,163.2 178.0,163.2 178.7,163.3 C179.4,163.5 179.4,164.0 179.6,164.5 C179.8,165.0 179.4,165.8 179.6,166.2 C179.8,166.6 180.8,166.6 181.0,167.1 C181.2,167.6 181.2,169.0 180.5,169.4 C179.8,169.8 177.7,169.7 177.0,169.4 C176.3,169.1 176.2,168.0 176.1,167.4 C176.0,166.8 176.8,166.2 176.7,165.6 C176.6,165.0 175.0,164.0 175.3,163.6Z"/>
<path d="M172.4,164.2 L175.3,163.8"/>
</g>
<g class="k">
<path d="M231,23.2 L194.3,23.2 L149.2,131"/>
<path d="M594,44.1 L557,44.1 L492.6,200.3"/>
<path d="M73.8,332 L111.2,332 L174.2,166.6"/>
<path d="M283,430.2 L320.5,430.2 L383.6,264.3"/>
</g>
<text x="234.6" y="28.8">*1</text>
<text x="597.6" y="48.8">*3</text>
<text x="33" y="335.8">*2 (*A)</text>
<text x="266.8" y="433.6">*4</text>
</svg>
</body></html>
